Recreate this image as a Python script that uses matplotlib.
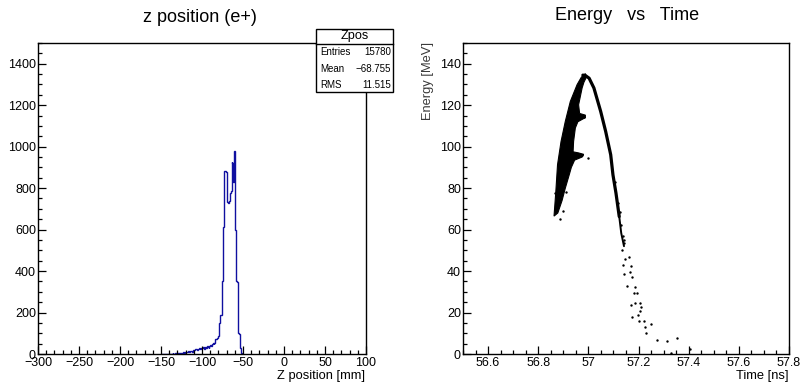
import matplotlib
matplotlib.use("Agg")
import matplotlib.pyplot as plt
import numpy as np
from matplotlib.ticker import MultipleLocator, FuncFormatter
from matplotlib.patches import Rectangle
from matplotlib.lines import Line2D

plt.rcParams['font.family'] = ['Liberation Sans', 'DejaVu Sans']

# ---- left: z position histogram, 1 mm bins starting at -150 mm
z_first_edge = -150
z_counts = [0, 0, 0, 0, 0, 0, 0, 1, 0, 1,
            0, 2, 1, 1, 3, 2, 2, 4, 3, 2,
            5, 4, 3, 6, 5, 7, 6, 8, 5, 9,
            10, 12, 9, 14, 11, 15, 13, 16, 12, 18,
            20, 17, 22, 25, 19, 24, 28, 22, 26, 30,
            27, 33, 29, 24, 35, 31, 38, 34, 30, 40,
            42, 38, 50, 52, 48, 55, 70, 72, 75, 82,
            85, 148, 188, 190, 352, 355, 612, 884, 884, 878,
            875, 735, 730, 740, 775, 785, 925, 920, 830, 980,
            600, 600, 350, 345, 100, 98, 30, 28, 5, 0]
stats_rows = [("Entries", "15780"), ("Mean", "\u221268.755"), ("RMS", "11.515")]

# ---- right: energy vs time
# outline of the dense band (left branch)
band_t = [56.863, 56.870, 56.877, 56.891, 56.908, 56.928, 56.955, 56.972, 56.988,
          56.992, 56.982, 56.975, 56.961, 56.965, 56.988, 56.988, 56.958, 56.948,
          56.941, 56.939, 56.960, 56.981, 56.975, 56.945, 56.932, 56.925, 56.908,
          56.895, 56.878]
band_e = [66.5, 78.0, 91.3, 102.5, 112.2, 121.8, 129.9, 133.5, 135.2,
          133.5, 131.0, 128.3, 120.2, 116.0, 115.2, 114.0, 112.0, 109.0,
          102.5, 97.5, 97.0, 96.3, 95.0, 93.5, 90.0, 87.0, 80.0,
          74.0, 68.0]
# falling branch
arc_t = [56.978, 56.988, 57.003, 57.022, 57.049, 57.069, 57.089, 57.098, 57.110, 57.123]
arc_e = [134.5, 134.3, 133.0, 128.3, 117.0, 107.3, 96.1, 86.4, 77.6, 66.3]
tail_t = [57.123, 57.131, 57.142]
tail_e = [66.3, 58.3, 52.0]
# isolated points
pts_t = [56.885, 56.899, 56.911, 56.868, 56.975, 56.997, 56.981,
         57.141, 57.135, 57.161, 57.148, 57.139, 57.171, 57.165, 57.144, 57.175, 57.155,
         57.184, 57.181, 57.192, 57.185, 57.205, 57.168, 57.208, 57.204, 57.175, 57.197,
         57.201, 57.221, 57.251, 57.225, 57.231, 57.275, 57.312, 57.355, 57.331, 57.405,
         57.131, 57.138, 57.126, 57.142, 57.118, 57.107]
pts_e = [65.2, 69.2, 77.9, 77.6, 95.9, 94.4, 114.2,
         53.4, 50.2, 47.0, 45.7, 43.0, 42.5, 39.7, 38.6, 37.3, 32.8,
         32.5, 29.6, 29.3, 24.8, 24.4, 23.7, 22.8, 20.9, 17.7, 19.0,
         15.8, 15.9, 14.3, 13.2, 10.0, 6.8, 6.4, 7.9, 0.3, 2.3,
         62.0, 57.0, 68.5, 55.0, 73.0, 83.0]

fig = plt.figure(figsize=(8.02, 3.84), dpi=100)
ax1 = fig.add_axes([0.0474, 0.0781, 0.409, 0.810])
ax2 = fig.add_axes([0.5773, 0.0781, 0.4065, 0.810])

edges = z_first_edge + np.arange(len(z_counts) + 1)
ax1.stairs(z_counts, edges, color='#1010a0', lw=1.0)
ax1.set_xlim(-300, 100)
ax1.set_ylim(0, 1500)
ax1.xaxis.set_major_locator(MultipleLocator(50))
ax1.xaxis.set_minor_locator(MultipleLocator(10))
ax1.yaxis.set_major_locator(MultipleLocator(200))
ax1.yaxis.set_minor_locator(MultipleLocator(50))

ax2.fill(band_t, band_e, color='black', lw=0.8, edgecolor='black')
ax2.plot(arc_t, arc_e, color='black', lw=2.3, solid_capstyle='round', solid_joinstyle='round')
ax2.plot(tail_t, tail_e, color='black', lw=1.4, solid_capstyle='round')
ax2.scatter(pts_t, pts_e, s=3, color='black', lw=0)
ax2.set_xlim(56.5, 57.8)
ax2.set_ylim(0, 150)
ax2.xaxis.set_major_locator(MultipleLocator(0.2))
ax2.xaxis.set_minor_locator(MultipleLocator(0.05))
ax2.yaxis.set_major_locator(MultipleLocator(20))
ax2.yaxis.set_minor_locator(MultipleLocator(5))
ax2.xaxis.set_major_formatter(FuncFormatter(lambda v, p: '%g' % round(v, 2)))

for ax in (ax1, ax2):
    for s in ax.spines.values():
        s.set_linewidth(1.0)
    ax.tick_params(which='major', direction='in', length=6, width=0.9, labelsize=9, pad=2.5)
    ax.tick_params(which='minor', direction='in', length=3, width=0.9)
    ax.tick_params(axis='y', pad=1.5)

fig.text(200 / 802, 1 - 17 / 384, 'z position (e+)', fontsize=13, ha='center', va='center')
fig.text(627 / 802, 1 - 16 / 384, 'Energy   vs   Time', fontsize=13, ha='center', va='center')
fig.text(365 / 802, 1 - 376 / 384, 'Z position [mm]', fontsize=9.3, ha='right', va='center')
fig.text(789 / 802, 1 - 376 / 384, 'Time [ns]', fontsize=9.3, ha='right', va='center')
fig.text(428 / 802, 1 - 42 / 384, 'Energy [MeV]', fontsize=9.3, ha='center', va='top',
         rotation=90, color='#3a3a3a')

# stats box
bx0, bx1, by0, by1, byh = 316, 393, 28.5, 91.5, 43.8
fig.add_artist(Rectangle((bx0 / 802, 1 - by1 / 384), (bx1 - bx0) / 802, (by1 - by0) / 384,
                         transform=fig.transFigure, facecolor='white', edgecolor='black',
                         lw=1.0, zorder=10))
fig.add_artist(Line2D([bx0 / 802, bx1 / 802], [1 - byh / 384, 1 - byh / 384],
                      transform=fig.transFigure, color='black', lw=1.0, zorder=11))
fig.text((bx0 + bx1) / 2 / 802, 1 - 36.5 / 384, 'Zpos', fontsize=9.2, ha='center', va='center', zorder=12)
for i, (k, v) in enumerate(stats_rows):
    yy = 1 - (52 + i * 16.5) / 384
    fig.text(320 / 802, yy, k, fontsize=7.0, ha='left', va='center', zorder=12)
    fig.text(391 / 802, yy, v, fontsize=7.0, ha='right', va='center', zorder=12)

fig.savefig('out.png', dpi=100)
